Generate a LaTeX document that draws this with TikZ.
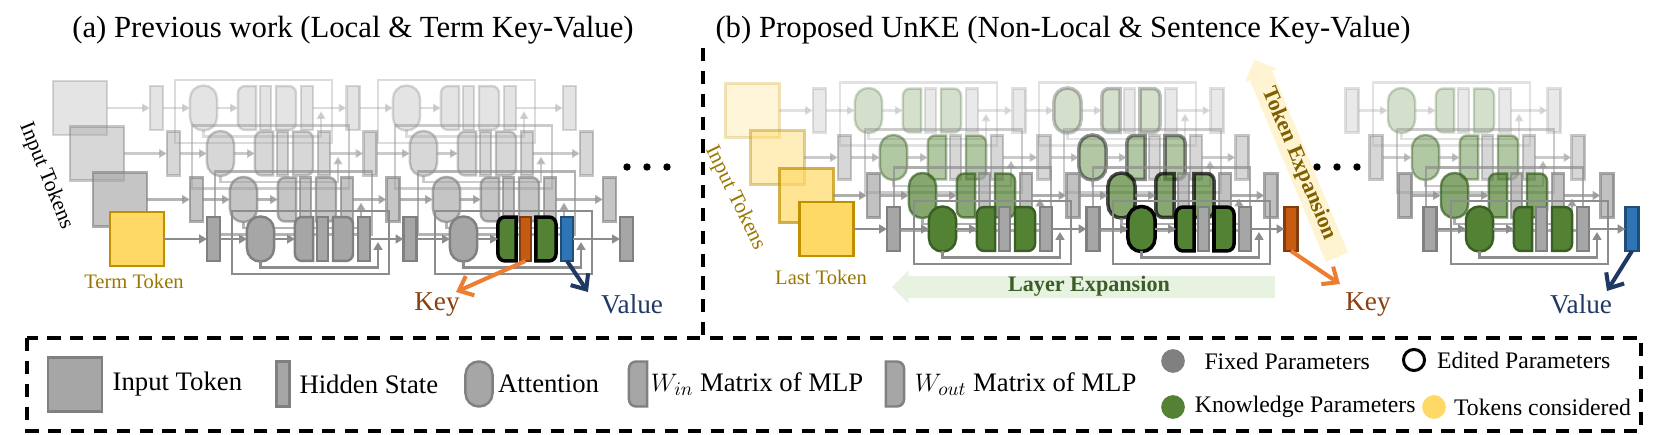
\documentclass[tikz,border=0pt]{standalone}
\usepackage{fontspec}
\setmainfont{Liberation Serif}
\usetikzlibrary{arrows.meta,positioning,shapes.arrows}

\definecolor{pfill}{HTML}{A6A6A6}
\definecolor{pdraw}{HTML}{808080}
\definecolor{wiregray}{HTML}{8C8C8C}
\definecolor{tokfill}{HTML}{FFD966}
\definecolor{tokdraw}{HTML}{BF9000}
\definecolor{toktext}{HTML}{9A7600}
\definecolor{kgreen}{HTML}{548235}
\definecolor{kdark}{HTML}{3A5F25}
\definecolor{korange}{HTML}{C55A11}
\definecolor{kbrown}{HTML}{843C0C}
\definecolor{kblue}{HTML}{2E75B6}
\definecolor{knavy}{HTML}{1F4E79}
\definecolor{keyarrow}{HTML}{ED7D31}
\definecolor{keytext}{HTML}{8B3F0E}
\definecolor{valtext}{HTML}{203864}
\definecolor{layerfill}{HTML}{E8F2E1}
\definecolor{layertext}{HTML}{3B5E27}
\definecolor{tokenfill}{HTML}{FFF4D2}
\definecolor{tokentext}{HTML}{7F6000}

\tikzset{
  part/.style={line width=1.4pt, inner sep=0pt, outer sep=0pt},
  param/.style={fill=pfill, draw=pdraw},
  nostyle/.style={},
  attp/.style={},
  hmid/.style={},
  hout/.style={},
  att/.style={part, param, attp, rounded corners=7.5pt, minimum width=15.4pt, minimum height=25.6pt},
  mat/.style={part, minimum width=10.3pt, minimum height=25pt},
  matline/.style={part, param},
  hid/.style={part, fill=pfill, draw=pdraw, minimum width=7.4pt, minimum height=25pt},
  token/.style={part, fill=tokfill, draw=tokdraw, minimum size=30.5pt},
  graytok/.style={fill=pfill, draw=pdraw},
  wire/.style={draw=wiregray, line width=1.4pt},
  knowledge/.style={param/.style={fill=kgreen, draw=kdark}},
  edited/.style={param/.append style={draw=black, line width=2pt}},
  keyh/.style={fill=korange, draw=kbrown},
  valh/.style={fill=kblue, draw=knavy},
  termlayer/.style={knowledge, edited, attp/.style={fill=pfill, draw=pdraw, line width=1.4pt}, hmid/.style={keyh}, hout/.style={valh}},
  ellipsisdot/.style={circle, fill=black, inner sep=0pt, minimum size=4.2pt},
  paneltitle/.style={font=\fontsize{17.5}{20}\selectfont, inner sep=0pt},
  legtext/.style={font=\fontsize{15.2}{18}\selectfont, inner sep=0pt},
  smalltext/.style={font=\fontsize{13.5}{16}\selectfont, inner sep=0pt},
  kvtext/.style={font=\fontsize{15.5}{18}\selectfont, inner sep=0pt},
  toklabel/.style={font=\fontsize{11.7}{14}\selectfont, text=toktext, inner sep=0pt},
  inlabel/.style={font=\fontsize{12.3}{14}\selectfont, inner sep=0pt},
  expandarrow/.style={single arrow, shape border rotate=180, single arrow head extend=3pt, inner xsep=0pt, inner ysep=0.6pt, text height=8pt, text depth=3pt, font=\bfseries\fontsize{12.6}{14}\selectfont},
  keyline/.style={draw=keyarrow, line width=2.3pt, -{Straight Barb[length=7pt,width=12pt]}},
  valline/.style={draw=valtext, line width=2.3pt, -{Straight Barb[length=7pt,width=12pt]}},
  dashframe/.style={draw=black, line width=2.3pt, dash pattern=on 7.5pt off 5.5pt},
  legdot/.style={circle, inner sep=0pt, outer sep=0pt, minimum size=13.5pt}
}

% W_in: rounded on the left, W_out: rounded on the right
\newcommand{\winpath}[1]{\path[matline] (#1.north east) -- ([xshift=4pt]#1.north west) arc[start angle=90, end angle=180, radius=4pt] -- ([yshift=4pt]#1.south west) arc[start angle=180, end angle=270, radius=4pt] -- (#1.south east) -- cycle;}
\newcommand{\woutpath}[1]{\path[matline] (#1.north west) -- ([xshift=-4pt]#1.north east) arc[start angle=90, end angle=0, radius=4pt] -- ([yshift=4pt]#1.south east) arc[start angle=0, end angle=-90, radius=4pt] -- (#1.south west) -- cycle;}

% one transformer layer: #2 name, #3 left x, #4 main line y
\newcommand{\layer}[4][]{%
  \begin{scope}[#1]
    \draw[wire] (#3,#4-28) rectangle (#3+157,#4+35);
    \node[att] (#2-a) at (#3+28.5,#4) {};
    \node[mat] (#2-i) at (#3+72,#4) {};
    \node[hid,hmid,minimum width=6.3pt] (#2-m) at (#3+90.5,#4) {};
    \node[mat,minimum width=11.4pt] (#2-o) at (#3+111,#4) {};
    \node[hid,hout,minimum width=6.8pt] (#2-s) at (#3+132,#4) {};
    \winpath{#2-i}
    \woutpath{#2-o}
    \coordinate (#2-r) at (#3+146,#4+3);
    \draw[wire,->] (#2-a) -- (#2-i);
    \draw[wire,->] (#2-a.south) -- ++(0,6) -| (#2-r);
  \end{scope}}

\begin{document}
\begin{tikzpicture}[x=0.02cm, y=-0.02cm, >={Triangle[length=4.5pt,width=5pt]}]
\useasboundingbox (0,0) rectangle (1661,435);

\node[paneltitle] (titleA) at (353,30) {(a) Previous work (Local \& Term Key-Value)};
\node[paneltitle] (titleB) at (1063,30) {(b) Proposed UnKE (Non-Local \& Sentence Key-Value)};

% (a) back rows first
\foreach \ro/\hx/\cy/\op/\tk/\lb in {0/150/108/0.3/graytok/nostyle, 1/167/153.5/0.45/graytok/nostyle, 2/190/199.5/0.65/graytok/nostyle, 3/207/239/1/nostyle/termlayer}{
  \begin{scope}[opacity=\op]
    \node[token,\tk] (ta\ro) at (\hx-70,\cy) {};
    \node[hid] (ha\ro) at (\hx+6.5,\cy) {};
    \layer{la\ro}{\hx+25}{\cy}
    \node[hid] (hb\ro) at (\hx+203,\cy) {};
    \layer[\lb]{lb\ro}{\hx+228}{\cy}
    \node[hid] (hc\ro) at (\hx+419.5,\cy) {};
    \draw[wire,->] (ta\ro) -- (ha\ro);
    \draw[wire,->] (ha\ro) -- (la\ro-a);
    \draw[wire,->] (la\ro-s) -- (hb\ro);
    \draw[wire,->] (hb\ro) -- (lb\ro-a);
    \draw[wire,->] (lb\ro-s) -- (hc\ro);
  \end{scope}
}
\node[inlabel, rotate=-68] (inA) at (46,176) {Input Tokens};
\node[toklabel] (termlab) at (134,281) {Term Token};
\foreach \i/\xx in {1/627, 2/647, 3/667}
  \node[ellipsisdot] (dota\i) at (\xx,167) {};

\coordinate (keyA) at (456,292);
\coordinate (valA) at (588,292);
\draw[keyline] (lb3-m.south) -- (keyA);
\draw[valline] (lb3-s.south) -- (valA);
\node[kvtext, text=keytext] (keyAtxt) at (437,305) {Key};
\node[kvtext, text=valtext] (valAtxt) at (632,304) {Value};

% (b) UnKE
\foreach \ro/\hx/\cy/\op/\hs in {0/813/110.5/0.25/nostyle, 1/838/157.5/0.45/nostyle, 2/867/195.5/0.7/nostyle, 3/887/229/1/keyh}{
  \begin{scope}[opacity=\op, knowledge]
    \node[token] (tb\ro) at (\hx-60.5,\cy) {};
    \node[hid] (hd\ro) at (\hx+6.5,\cy) {};
    \layer{lc\ro}{\hx+27}{\cy}
    \node[hid] (he\ro) at (\hx+206,\cy) {};
    \layer[edited]{ld\ro}{\hx+226}{\cy}
    \node[hid,\hs] (hf\ro) at (\hx+404,\cy) {};
    \draw[wire,->] (tb\ro) -- (hd\ro);
    \draw[wire,->] (hd\ro) -- (lc\ro-a);
    \draw[wire,->] (lc\ro-s) -- (he\ro);
    \draw[wire,->] (he\ro) -- (ld\ro-a);
    \draw[wire,->] (ld\ro-s) -- (hf\ro);
  \end{scope}
}
\foreach \ro/\hx/\cy/\op/\hs in {0/1345/110.5/0.25/nostyle, 1/1369/157.5/0.45/nostyle, 2/1398/195.5/0.7/nostyle, 3/1423/229/1/valh}{
  \begin{scope}[opacity=\op, knowledge]
    \node[hid] (hg\ro) at (\hx+7,\cy) {};
    \layer{lg\ro}{\hx+28}{\cy}
    \node[hid,\hs] (hh\ro) at (\hx+209,\cy) {};
    \draw[wire,->] (hg\ro) -- (lg\ro-a);
    \draw[wire,->] (lg\ro-s) -- (hh\ro);
  \end{scope}
}
\node[inlabel, rotate=-64, text=toktext] (inB) at (735,198) {Input Tokens};
\node[toklabel] (lastlab) at (821,277) {Last Token};
\foreach \i/\xx in {1/1317, 2/1337, 3/1357}
  \node[ellipsisdot] (dotb\i) at (\xx,167) {};

\node[expandarrow, fill=layerfill, text=layertext, minimum height=218pt] (layexp) at (1089,287) {Layer Expansion};
\node[expandarrow, fill=tokenfill, text=tokentext, minimum height=122pt, rotate=-67.3, inner ysep=1.2pt] (tokexp) at (1298,164) {Token Expansion};

\coordinate (keyB) at (1340,284);
\coordinate (valB) at (1607,291);
\draw[keyline] (hf3.south) -- (keyB);
\draw[valline] (hh3.south) -- (valB);
\node[kvtext, text=keytext] (keyBtxt) at (1368,305) {Key};
\node[kvtext, text=valtext] (valBtxt) at (1581,304) {Value};

% legend
\draw[dashframe] (27,338) rectangle (1641,431);
\draw[dashframe] (703,48) -- (703,338);
\node[token, graytok] (lgtok) at (75,384.5) {};
\node[legtext, right=6pt of lgtok] (lgtoktxt) {Input Token};
\node[hid, minimum height=25.6pt] (lghid) at (283,384) {};
\node[legtext, right=5.5pt of lghid] (lghidtxt) {Hidden State};
\node[att] (lgatt) at (479,384) {};
\node[legtext, right=3pt of lgatt] (lgatttxt) {Attention};
\node[mat, minimum height=25.6pt] (lgwin) at (638,384) {};
\winpath{lgwin}
\node[legtext, right=2pt of lgwin] (lgwintxt) {$W_{in}$ Matrix of MLP};
\node[mat, minimum width=10.3pt, minimum height=25.6pt] (lgwout) at (895,384) {};
\woutpath{lgwout}
\node[legtext, right=6pt of lgwout] (lgwouttxt) {$W_{out}$ Matrix of MLP};
\node[legdot, fill=pdraw] (lgfix) at (1173,361) {};
\node[smalltext, right=11pt of lgfix] (lgfixtxt) {Fixed Parameters};
\node[legdot, draw=black, line width=1.7pt, minimum size=12pt] (lgedit) at (1414,360) {};
\node[smalltext, right=7pt of lgedit] (lgedittxt) {Edited Parameters};
\node[legdot, fill=kgreen] (lgknow) at (1173,407) {};
\node[smalltext, right=5.5pt of lgknow] (lgknowtxt) {Knowledge Parameters};
\node[legdot, fill=tokfill] (lgtokc) at (1434,407) {};
\node[smalltext, right=4.5pt of lgtokc] (lgtokctxt) {Tokens considered};
\end{tikzpicture}
\end{document}
